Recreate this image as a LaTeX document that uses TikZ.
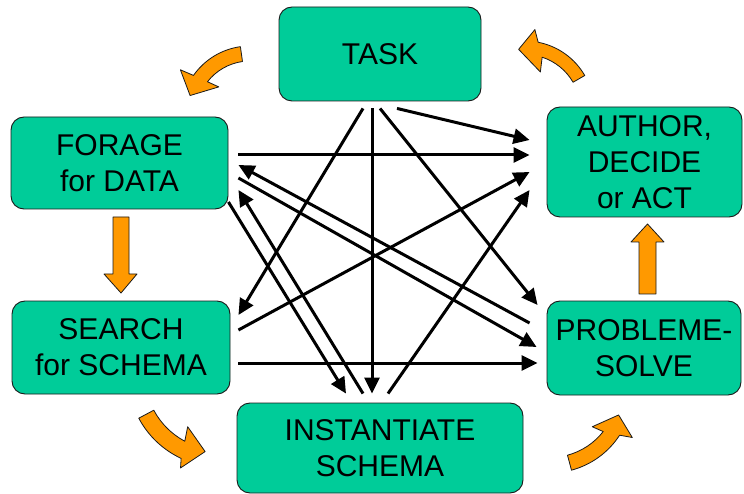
\documentclass[tikz,border=0pt]{standalone}
\usepackage{fontspec}
\setmainfont{Liberation Sans}
\usetikzlibrary{arrows.meta,positioning}
\definecolor{loopGreen}{HTML}{00CC99}
\definecolor{loopOrange}{HTML}{FF9900}
\definecolor{loopInk}{HTML}{1A1A1A}

\begin{document}
\begin{tikzpicture}[x=1pt,y=-1pt,>={Triangle[length=16pt,width=15pt]},line join=round]
\path[fill=white] (0,0) rectangle (744,494);
\tikzset{stage/.style={draw=loopInk,fill=loopGreen,line width=0.9pt,rounded corners=13pt,align=center,inner sep=0pt,font=\fontsize{30}{36}\selectfont},link/.style={draw=black,line width=3pt,->},flow/.style={draw=loopInk,fill=loopOrange,line width=0.8pt}}
% the six stages
\node[stage,minimum width=202pt,minimum height=94pt] (task) at (380,54) {TASK};
\node[stage,minimum width=195pt,minimum height=110pt] (author) at (644.5,162) {AUTHOR,\\DECIDE\\or ACT};
\node[stage,minimum width=217pt,minimum height=92pt] (forage) at (119.5,163) {FORAGE\\for DATA};
\node[stage,minimum width=218pt,minimum height=93pt] (search) at (121,347.5) {SEARCH\\for SCHEMA};
\node[stage,minimum width=194pt,minimum height=94pt] (solve) at (644,348) {PROBLEME-\\SOLVE};
\node[stage,minimum width=286pt,minimum height=90pt] (inst) at (380,448) {INSTANTIATE\\SCHEMA};
% cross links
\draw[link] ([shift={(17,7)}]task.south) -- ([shift={(-17,-22)}]author.west);
\draw[link] ([shift={(10,-8)}]forage.east) -- ([shift={(-17,-7)}]author.west);
\draw[link] ([shift={(-17,-25)}]solve.west) -- ([shift={(10,2)}]forage.east);
\draw[link] ([shift={(10,15)}]forage.east) -- ([shift={(-10,-1)}]solve.west);
\draw[link] ([shift={(0,39)}]forage.east) -- ([shift={(-34,-9)}]inst.north);
\draw[link] ([shift={(-17,-9)}]inst.north) -- ([shift={(10,27)}]forage.east);
\draw[link] ([shift={(-17,7)}]task.south) -- ([shift={(8,-32.5)}]search.east);
\draw[link] ([shift={(-8,7)}]task.south) -- ([shift={(-8,-9)}]inst.north);
\draw[link] ([shift={(0,7)}]task.south) -- ([shift={(-9,-43)}]solve.west);
\draw[link] ([shift={(8,-17.5)}]search.east) -- ([shift={(-17,10)}]author.west);
\draw[link] ([shift={(8,-9)}]inst.north) -- ([shift={(-17,28)}]author.west);
\draw[link] ([shift={(8,15.5)}]search.east) -- ([shift={(-9,15)}]solve.west);
% orange cycle arrows
\path[flow,shift={(250,115)}] (98:69pt) arc[start angle=98,end angle=145,radius=69pt] -- (147:83pt) -- (162:63pt) -- (138:42pt) -- (142:54pt) arc[start angle=142,end angle=98,radius=54pt] -- cycle;
\path[flow] (113,217) -- (129,217) -- (129,274) -- (137,274) -- (121,293) -- (104,274) -- (113,274) -- cycle;
\path[flow,shift={(220,375)}] (208:92pt) arc[start angle=208,end angle=245,radius=92pt] -- (247:101pt) -- (259:78pt) -- (238:61pt) -- (242:75pt) arc[start angle=242,end angle=208,radius=75pt] -- cycle;
\path[flow,shift={(550,390)}] (-75:83pt) arc[start angle=-75,end angle=-33,radius=83pt] -- (-30:95pt) -- (-20:73pt) -- (-41:56pt) -- (-38:67.5pt) arc[start angle=-38,end angle=-75,radius=67.5pt] -- cycle;
\path[flow] (639,294) -- (656,294) -- (656,242) -- (664,242) -- (647.5,224) -- (631,242) -- (639,242) -- cycle;
\path[flow,shift={(525,110)}] (30:69pt) arc[start angle=30,end angle=79,radius=69pt] -- (83:81pt) -- (96:61pt) -- (68:41pt) -- (72:55.5pt) arc[start angle=72,end angle=30,radius=55.5pt] -- cycle;
\end{tikzpicture}
\end{document}
